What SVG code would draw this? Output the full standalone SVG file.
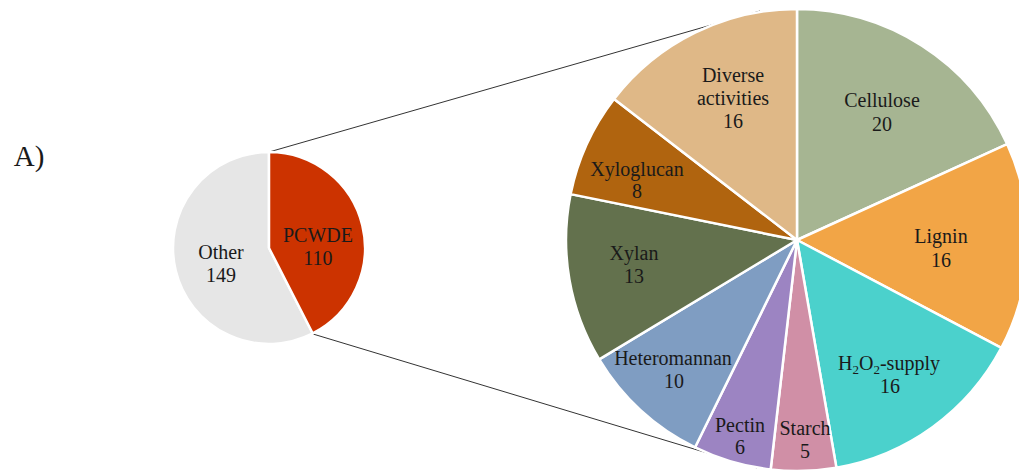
<svg xmlns="http://www.w3.org/2000/svg" width="1019" height="470" viewBox="0 0 1019 470">
<style>
text{font-family:"Liberation Serif","Times New Roman",serif;font-size:20px;fill:#1a1a1a;text-anchor:middle}
.sl{stroke:#fff;stroke-width:2.5;stroke-linejoin:round}
.cn{stroke:#333;stroke-width:1;fill:none}
</style>
<rect width="1019" height="470" fill="#fff"/>
<text x="29" y="166" style="font-size:29px">A)</text>
<g id="connectors">
<line class="cn" x1="269" y1="152" x2="760" y2="11"/>
<line class="cn" x1="313" y1="334" x2="757" y2="468"/>
</g>
<g id="other">
<path class="sl" fill="#e6e6e6" d="M269,248 L312.74,333.46 A96,96 0 1 1 269,152 Z"/>
<text x="221" y="259">Other</text><text x="221" y="282">149</text>
</g>
<g id="pcwde">
<path class="sl" fill="#cc3300" d="M269,248 L269,152 A96,96 0 0 1 312.74,333.46 Z"/>
<text x="318" y="242">PCWDE</text><text x="318" y="265">110</text>
</g>
<g id="cellulose">
<path class="sl" fill="#a6b592" d="M797,240 L797,9 A231,231 0 0 1 1007.12,144.04 Z"/>
<text x="882" y="107">Cellulose</text><text x="882" y="131">20</text>
</g>
<g id="lignin">
<path class="sl" fill="#f2a546" d="M797,240 L1007.12,144.04 A231,231 0 0 1 1001.33,347.80 Z"/>
<text x="941" y="243">Lignin</text><text x="941" y="267">16</text>
</g>
<g id="h2o2">
<path class="sl" fill="#4bd1cc" d="M797,240 L1001.33,347.80 A231,231 0 0 1 836.39,467.62 Z"/>
<text x="889" y="370">H<tspan font-size="13" dy="4">2</tspan><tspan dy="-4">O</tspan><tspan font-size="13" dy="4">2</tspan><tspan dy="-4">-supply</tspan></text>
<text x="890" y="393">16</text>
</g>
<g id="starch">
<path class="sl" fill="#d08fa6" d="M797,240 L836.39,467.62 A231,231 0 0 1 770.67,469.49 Z"/>
<text x="805" y="435">Starch</text><text x="805" y="458">5</text>
</g>
<g id="pectin">
<path class="sl" fill="#9c84c2" d="M797,240 L770.67,469.49 A231,231 0 0 1 695.09,447.31 Z"/>
<text x="740" y="432">Pectin</text><text x="740" y="454">6</text>
</g>
<g id="heteromannan">
<path class="sl" fill="#7f9dc2" d="M797,240 L695.09,447.31 A231,231 0 0 1 599.21,359.33 Z"/>
<text x="673" y="365">Heteromannan</text><text x="674" y="388">10</text>
</g>
<g id="xylan">
<path class="sl" fill="#63714d" d="M797,240 L599.21,359.33 A231,231 0 0 1 570.60,194.13 Z"/>
<text x="634" y="260">Xylan</text><text x="634" y="283">13</text>
</g>
<g id="xyloglucan">
<path class="sl" fill="#b0640f" d="M797,240 L570.60,194.13 A231,231 0 0 1 614.05,98.97 Z"/>
<text x="637" y="176">Xyloglucan</text><text x="637" y="198">8</text>
</g>
<g id="diverse">
<path class="sl" fill="#dfb887" d="M797,240 L614.05,98.97 A231,231 0 0 1 797,9 Z"/>
<text x="733" y="82">Diverse</text><text x="733" y="105">activities</text><text x="733" y="128">16</text>
</g>
</svg>
